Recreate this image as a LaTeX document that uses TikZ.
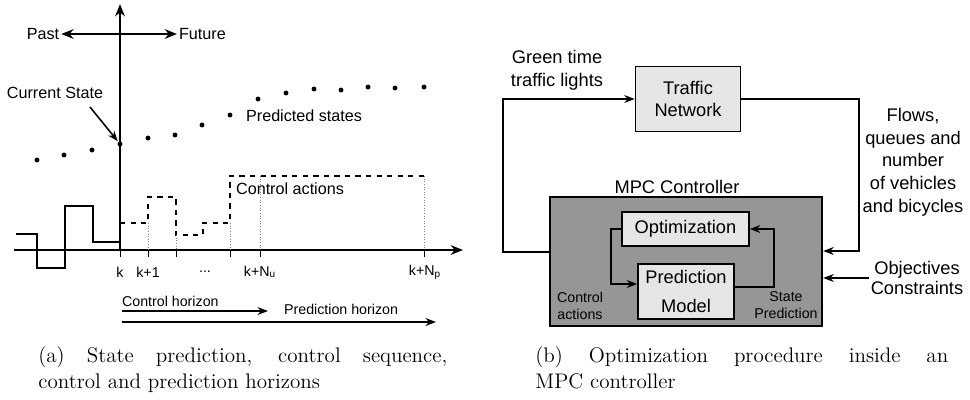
\documentclass[tikz,border=0pt]{standalone}
\usepackage{fontspec}
\setsansfont{Liberation Sans}
\usetikzlibrary{arrows}
\usetikzlibrary{calc}
\usetikzlibrary{arrows.meta}
\definecolor{boxgray}{RGB}{230,230,230}
\definecolor{mpcgray}{RGB}{150,150,150}

\begin{document}
\begin{tikzpicture}[x=0.02cm,y=-0.02cm]
		\tikzset{lab/.style = {font=\sffamily\fontsize{9.2}{11}\selectfont, inner sep=1pt}}
		\tikzset{small/.style = {font=\sffamily\fontsize{8.1}{9.6}\selectfont, inner sep=1pt}}
		\tikzset{blab/.style = {font=\sffamily\fontsize{10.4}{12.9}\selectfont, align=center, inner sep=1pt}}
		\tikzset{block/.style = {draw, line width=0.9pt, fill=boxgray}}
		\tikzset{edge/.style = {->,> = {Stealth[length=6pt, width=4.5pt, inset=2pt]}, line width=0.9pt}}
		\tikzset{axis/.style = {->,> = {Stealth[length=7pt, width=5.5pt, inset=2.3pt]}, line width=1.2pt}}
		\tikzset{capt/.style = {font=\fontsize{12}{14.8}\selectfont, anchor=north west, inner sep=0pt, align=justify}}
		\useasboundingbox (0,0) rectangle (970,399);
		
		% axes
		\draw[axis] (14,250) -- (463,250);
		\draw[axis] (120,250) -- (120,4);
		\node[lab] (past) at (43,34) {Past};
		\node[lab, anchor=west] (future) at (177,34) {Future};
		\draw[axis, <->] (past) -- (future);
		
		% states
		\node[lab] (cur) at (55,93) {Current State};
		\coordinate (curtail) at (90,107);
		\coordinate (k0) at (120,144);
		\draw[edge, shorten >=2pt] (curtail) -- (k0);
		\foreach \x/\y in {37/160, 64/155, 92/150, 120/144, 148/138, 175/135, 202/125, 230/115, 258/99, 286/93, 314/89, 341/90, 368/87, 395/88, 424/87}
			\fill (\x,\y) circle (1.4pt);
		\node[lab, anchor=west] (pred) at (244,116) {Predicted states};
		
		% control sequence
		\draw[line width=0.7pt] (16,234) -- (37,234) -- (37,268) -- (65,268) -- (65,206) -- (93,206) -- (93,242) -- (120,242);
		\draw[dashed, line width=0.7pt] (120,223) -- (148,223) -- (148,197) -- (176,197) -- (176,235) -- (203,235) -- (203,223) -- (230,223) -- (230,176) -- (424,176);
		\foreach \x/\y in {148/223, 176/235, 230/223, 260/176, 424/176}
			\draw[densely dotted, gray, line width=0.5pt] (\x,\y) -- (\x,250);
		\foreach \x in {120,148,176,230,260,424}
			\draw[line width=0.5pt] (\x,250) -- (\x,257);
		\node[lab, anchor=west] (act) at (234,189) {Control actions};
		
		% ticks
		\node[small] (tk) at (120,272) {k};
		\node[small] (tk1) at (148,272) {k+1};
		\node[small] (tdots) at (205,272) {...};
		\node[small] (tnu) at (260,272) {k+N\textsubscript{u}};
		\node[small] (tnp) at (425,272) {k+N\textsubscript{p}};
		
		% horizons
		\node[small, anchor=west] (chor) at (120,301) {Control horizon};
		\coordinate (chs) at (122,311);
		\coordinate (che) at (268,311);
		\draw[edge] (chs) -- (che);
		\node[small, anchor=west] (phor) at (282,309) {Prediction horizon};
		\coordinate (phs) at (122,322);
		\coordinate (phe) at (436,322);
		\draw[edge] (phs) -- (phe);
		
		% right: blocks
		\node[block, blab, minimum width=2.1cm, minimum height=1.3cm] (tn) at (688,99) {Traffic\\Network};
		\node[blab] (green) at (557,70) {Green time\\traffic lights};
		\node[blab] (mpclab) at (677,187) {MPC Controller};
		\node[draw, line width=1.4pt, fill=mpcgray, minimum width=5.44cm, minimum height=2.58cm] (mpc) at (686,261.5) {};
		\node[block, blab, minimum width=2.54cm, minimum height=0.68cm] (opt) at (685.5,229) {Optimization};
		\node[block, blab, font=\sffamily\fontsize{10.4}{17}\selectfont, minimum width=1.92cm, minimum height=1.1cm] (pm) at (686,291.5) {Prediction\\Model};
		\node[small, align=center] (calab) at (580,305.5) {Control\\actions};
		\node[small, align=center] (splab) at (786,305.5) {State\\Prediction};
		\node[blab] (flows) at (913,162) {Flows,\\queues and\\number\\of vehicles\\and bicycles};
		\node[blab, font=\sffamily\fontsize{10.4}{11.5}\selectfont] (obj) at (917,278) {Objectives\\Constraints};
		
		%edges
		\coordinate (lc) at (503,252);
		\coordinate (rc) at (859,251);
		\draw[edge] (lc -| mpc.west) -- (lc) |- (tn.west);
		\draw[edge] (tn.east) -| (rc) -- (rc -| mpc.east);
		\draw[edge] (obj.west) -- (obj.west -| mpc.east);
		\draw[edge] (opt.west) -- ++(-10,0) |- ($(pm.west)+(0,-7.5)$);
		\draw[edge] ($(pm.east)+(0,-4.5)$) -- ++(39,0) |- (opt.east);
		
		% captions
		\node[capt, text width=8.18cm] (capa) at (38,346) {(a) State prediction, control sequence,\linebreak control and prediction horizons};
		\node[capt, text width=8.26cm] (capb) at (535,346) {(b) Optimization procedure inside an\linebreak MPC controller};
		
\end{tikzpicture}
\end{document}
